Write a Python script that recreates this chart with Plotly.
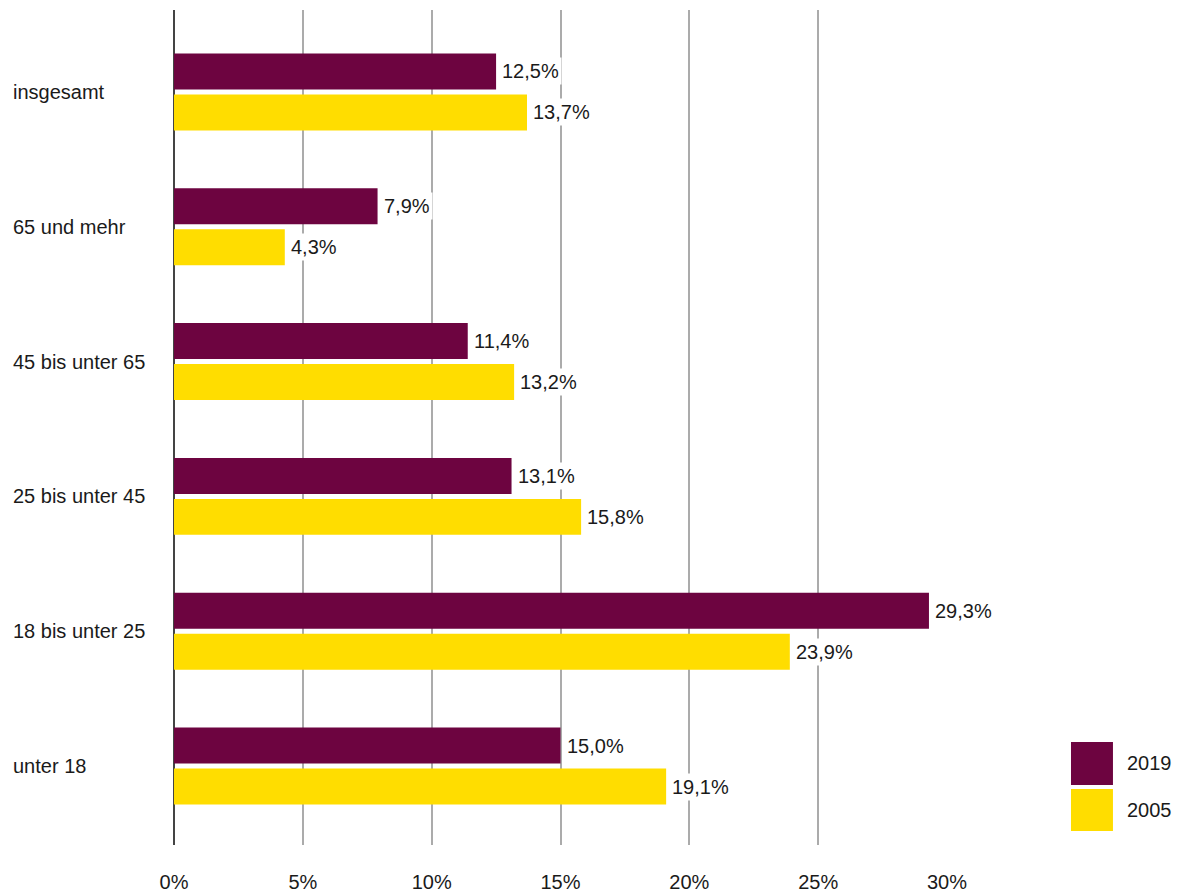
import plotly.graph_objects as go

categories = ["insgesamt", "65 und mehr", "45 bis unter 65", "25 bis unter 45",
              "18 bis unter 25", "unter 18"]
values_2019 = [12.5, 7.9, 11.4, 13.1, 29.3, 15.0]
values_2005 = [13.7, 4.3, 13.2, 15.8, 23.9, 19.1]
series = [("2019", values_2019, "#6D0440"), ("2005", values_2005, "#FFDD00")]
x_ticks = [0, 5, 10, 15, 20, 25, 30]

FONT = "Liberation Sans, Arial, sans-serif"
SIZE = 20
TXT = "#1a1a1a"

fig = go.Figure()
for name, vals, col in series:
    fig.add_trace(go.Bar(
        y=categories, x=vals, name=name, orientation="h",
        marker=dict(color=col, line=dict(width=0)),
        showlegend=False,
    ))

# value labels with white background (they cover the gridlines)
for shift, (name, vals, col) in zip([20.5, -20.5], series):
    for cat, v in zip(categories, vals):
        fig.add_annotation(
            x=v, y=cat, xref="x", yref="y", text=f"{v:.1f}%".replace(".", ","),
            showarrow=False, xanchor="left", yanchor="middle",
            xshift=3, yshift=shift, bgcolor="white", borderpad=2,
            font=dict(family=FONT, size=SIZE, color=TXT),
        )

# left-aligned category labels
for cat in categories:
    fig.add_annotation(
        x=-0.2105, y=cat, xref="paper", yref="y", text=cat,
        showarrow=False, xanchor="left", yanchor="middle",
        font=dict(family=FONT, size=SIZE, color=TXT),
    )

# custom legend with large squares
legend_pos = [(0.1234, 0.0719), (0.0671, 0.0168)]
for (name, vals, col), (y1, y0) in zip(series, legend_pos):
    fig.add_shape(type="rect", xref="paper", yref="paper",
                  x0=1.1604, x1=1.2147, y0=y0, y1=y1,
                  fillcolor=col, line=dict(width=0))
    fig.add_annotation(
        x=1.2302, y=(y0 + y1) / 2, xref="paper", yref="paper", text=name,
        showarrow=False, xanchor="left", yanchor="middle",
        font=dict(family=FONT, size=SIZE, color=TXT),
    )

fig.update_layout(
    width=1181, height=891,
    margin=dict(l=166, r=242, t=2, b=54),
    barmode="group", bargap=0.392, bargroupgap=0.122,
    plot_bgcolor="white", paper_bgcolor="white",
    font=dict(family=FONT, size=SIZE, color=TXT),
    xaxis=dict(
        range=[0, 30], tickvals=x_ticks,
        ticktext=[f"{t}%" for t in x_ticks],
        showgrid=True, gridcolor="#ababab", gridwidth=1.5,
        zeroline=True, zerolinecolor="#444444", zerolinewidth=2,
        ticks="", ticklabelstandoff=23, fixedrange=True,
    ),
    yaxis=dict(
        categoryorder="array", categoryarray=categories,
        range=[5.586, -0.608], showticklabels=False,
        showgrid=False, zeroline=False, ticks="",
    ),
)

fig.write_html("out.html")
